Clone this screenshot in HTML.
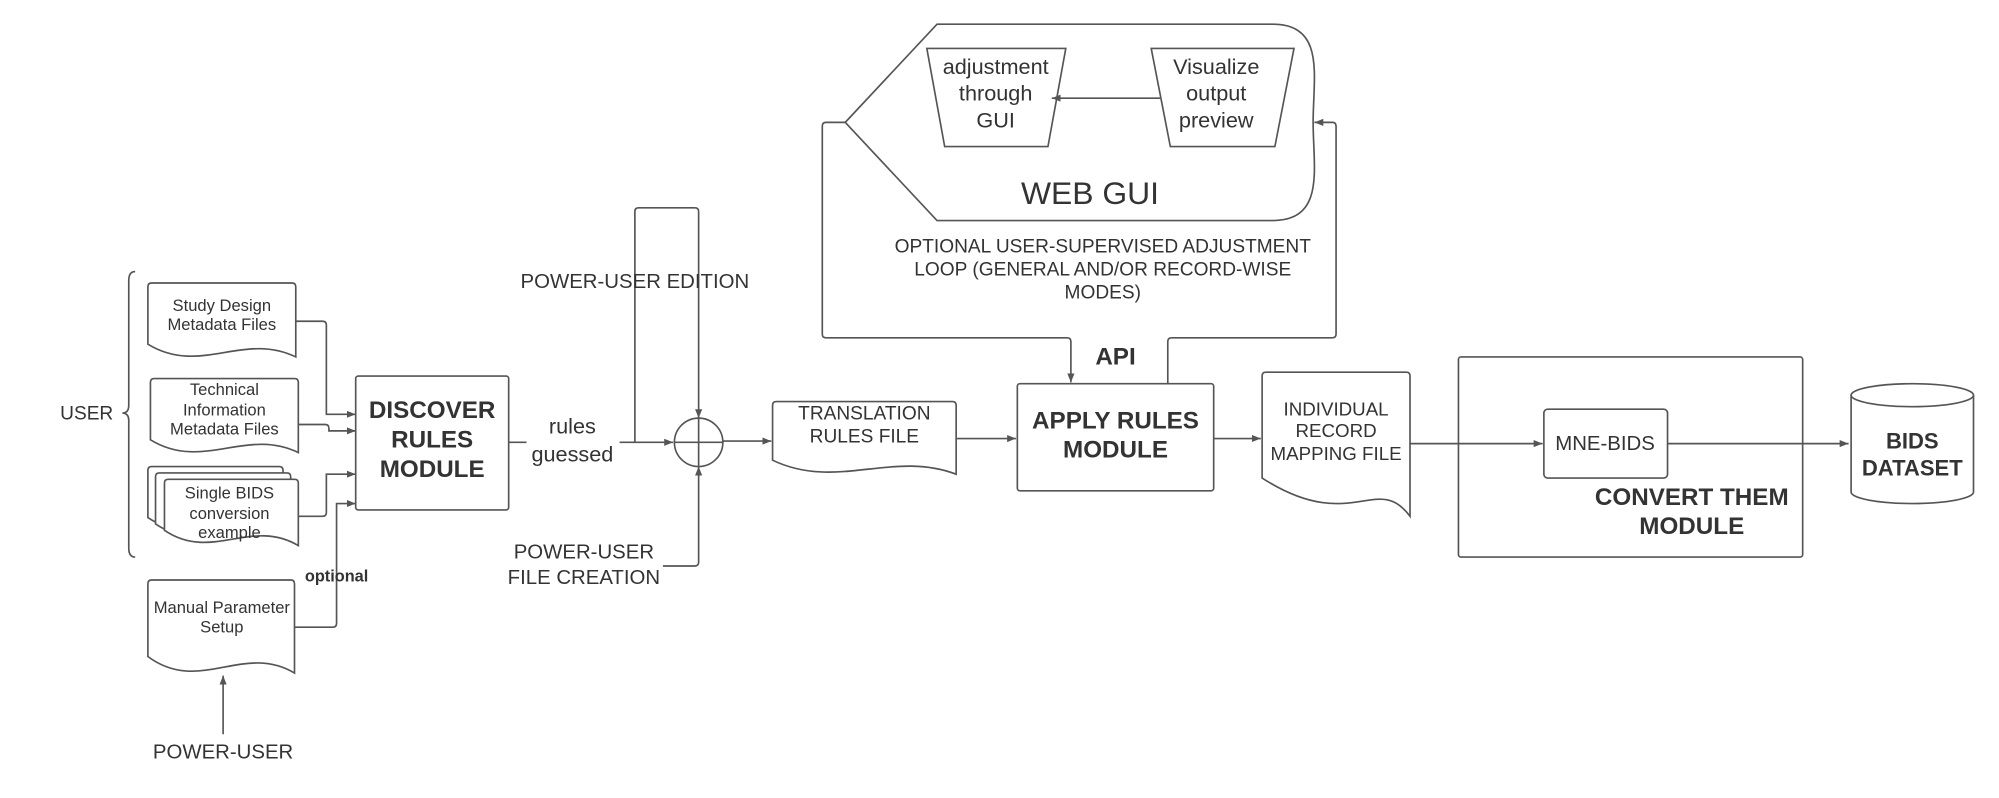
<!DOCTYPE html>
<html><head><meta charset="utf-8"><style>
html,body{margin:0;padding:0;background:#fff;}
svg{display:block;}
text{font-family:"Liberation Sans",sans-serif;fill:#333;}
</style></head><body>
<svg width="1999" height="798" viewBox="0 0 1568 626" preserveAspectRatio="none" xmlns="http://www.w3.org/2000/svg">
<defs>
<marker id="a" viewBox="0 0 10 10" refX="10" refY="5" markerWidth="7" markerHeight="7" orient="auto" markerUnits="userSpaceOnUse"><path d="M0,1 L10,5 L0,9 z" fill="#555"/></marker>
</defs>
<g fill="none" stroke="#555" stroke-width="1.3">
<path d="M106,213 Q101,213 101,220 V318 Q101,324 96,324 Q101,324 101,330 V430 Q101,437 106,437"/>
<path fill="#fff" d="M116,270 V225 Q116,222 119,222 H229 Q232,222 232,225 V280 C191,260 157,295 116,270 Z"/>
<path fill="#fff" d="M118,345 V300 Q118,297 121,297 H231 Q234,297 234,300 V355 C193,335 159,370 118,345 Z"/>
<path fill="#fff" d="M116,406 V369 Q116,366 119,366 H219 Q222,366 222,369 V416 C185,396 153,431 116,406 Z"/>
<path fill="#fff" d="M122,411 V374 Q122,371 125,371 H225 Q228,371 228,374 V421 C191,401 159,436 122,411 Z"/>
<path fill="#fff" d="M129,416 V379 Q129,376 132,376 H231 Q234,376 234,379 V428 C197,406 166,441 129,416 Z"/>
<path fill="#fff" d="M116,515 V458 Q116,455 119,455 H228 Q231,455 231,458 V528 C191,504 156,545 116,515 Z"/>
<path fill="#fff" d="M606,361 V318 Q606,315 609,315 H747 Q750,315 750,318 V372 C700,353 656,385 606,361 Z"/>
<path fill="#fff" d="M990,375 V295 Q990,292 993,292 H1103 Q1106,292 1106,295 V405 C1080,370 1060,420 990,375 Z"/>
<path d="M232,252 H253 Q256,252 256,255 V325 H279" marker-end="url(#a)"/>
<path d="M234,333 H255 Q258,333 258,336 V338 H279" marker-end="url(#a)"/>
<path d="M234,405 H253 Q256,405 256,402 V372 H279" marker-end="url(#a)"/>
<path d="M231,492 H261 Q264,492 264,489 V395 H279" marker-end="url(#a)"/>
<path d="M175,576 V530" marker-end="url(#a)"/>
<rect x="279" y="295" width="120" height="105" rx="2" fill="#fff"/>
<path d="M399,347 H413"/>
<path d="M486,347 H528" marker-end="url(#a)"/>
<path d="M498,347 V166 Q498,163 501,163 H545 Q548,163 548,166 V328" marker-end="url(#a)"/>
<path d="M520,444 H545 Q548,444 548,441 V366" marker-end="url(#a)"/>
<circle cx="548" cy="347" r="19"/>
<path d="M529,347 H567 M548,328 V366"/>
<path d="M567,346 H605" marker-end="url(#a)"/>
<path d="M750,344 H797" marker-end="url(#a)"/>
<rect x="798" y="301" width="154" height="84" rx="2" fill="#fff"/>
<path d="M663,96 H648 Q645,96 645,99 V262 Q645,265 648,265 H837 Q840,265 840,268 V300" marker-end="url(#a)"/>
<path d="M916,301 V268 Q916,265 919,265 H1045 Q1048,265 1048,262 V99 Q1048,96 1045,96 H1031" marker-end="url(#a)"/>
<path d="M663,96 L735,19 H998 C1040,19 1030,60 1030,96 C1030,132 1040,173 998,173 H735 Z"/>
<path d="M727,38 H836 L822,115 H741 Z"/>
<path d="M903,38 H1015 L1000,115 H918 Z"/>
<path d="M910,77 H825" marker-end="url(#a)"/>
<path d="M952,344 H989" marker-end="url(#a)"/>
<path d="M1106,348 H1210" marker-end="url(#a)"/>
<rect x="1144" y="280" width="270" height="157" rx="2"/>
<rect x="1211" y="321" width="97" height="54" rx="3" fill="#fff"/>
<path d="M1308,348 H1450" marker-end="url(#a)"/>
<path d="M1452,310 V386 A48,9 0 0 0 1548,386 V310" fill="#fff"/>
<ellipse cx="1500" cy="310" rx="48" ry="9" fill="#fff"/>
</g>
<g text-anchor="middle">
<text x="68" y="329" font-size="15">USER</text>
<text x="174" y="244" font-size="13">Study Design</text>
<text x="174" y="259" font-size="13">Metadata Files</text>
<text x="176" y="310" font-size="13">Technical</text>
<text x="176" y="326" font-size="13">Information</text>
<text x="176" y="341" font-size="13">Metadata Files</text>
<text x="180" y="391" font-size="13">Single BIDS</text>
<text x="180" y="407" font-size="13">conversion</text>
<text x="180" y="422" font-size="13">example</text>
<text x="264" y="456" font-size="12.8" font-weight="bold">optional</text>
<text x="174" y="481" font-size="13">Manual Parameter</text>
<text x="174" y="496" font-size="13">Setup</text>
<text x="175" y="595" font-size="16">POWER-USER</text>
<text x="339" y="328" font-size="19" font-weight="bold">DISCOVER</text>
<text x="339" y="351" font-size="19" font-weight="bold">RULES</text>
<text x="339" y="374" font-size="19" font-weight="bold">MODULE</text>
<text x="449" y="340" font-size="17">rules</text>
<text x="449" y="362" font-size="17">guessed</text>
<text x="498" y="226" font-size="16">POWER-USER EDITION</text>
<text x="458" y="438" font-size="16">POWER-USER</text>
<text x="458" y="458" font-size="16">FILE CREATION</text>
<text x="678" y="329" font-size="15">TRANSLATION</text>
<text x="678" y="347" font-size="15">RULES FILE</text>
<text x="875" y="336" font-size="19" font-weight="bold">APPLY RULES</text>
<text x="875" y="359" font-size="19" font-weight="bold">MODULE</text>
<text x="875" y="286" font-size="19" font-weight="bold">API</text>
<text x="855" y="160" font-size="25">WEB GUI</text>
<text x="781" y="58" font-size="17">adjustment</text>
<text x="781" y="79" font-size="17">through</text>
<text x="781" y="100" font-size="17">GUI</text>
<text x="954" y="58" font-size="17">Visualize</text>
<text x="954" y="79" font-size="17">output</text>
<text x="954" y="100" font-size="17">preview</text>
<text x="865" y="198" font-size="15">OPTIONAL USER-SUPERVISED ADJUSTMENT</text>
<text x="865" y="216" font-size="15">LOOP (GENERAL AND/OR RECORD-WISE</text>
<text x="865" y="234" font-size="15">MODES)</text>
<text x="1048" y="326" font-size="14.7">INDIVIDUAL</text>
<text x="1048" y="343" font-size="14.7">RECORD</text>
<text x="1048" y="361" font-size="14.7">MAPPING FILE</text>
<text x="1259" y="353" font-size="16">MNE-BIDS</text>
<text x="1327" y="396" font-size="19" font-weight="bold">CONVERT THEM</text>
<text x="1327" y="419" font-size="19" font-weight="bold">MODULE</text>
<text x="1500" y="352" font-size="17.3" font-weight="bold">BIDS</text>
<text x="1500" y="373" font-size="17.3" font-weight="bold">DATASET</text>
</g>
</svg>
</body></html>
